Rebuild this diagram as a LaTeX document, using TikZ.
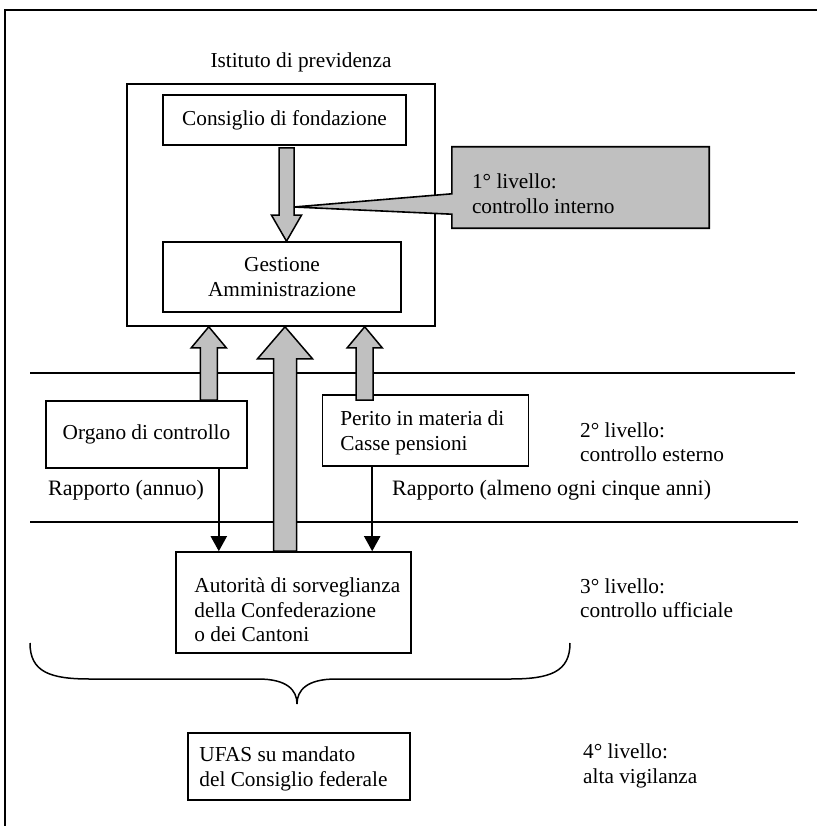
\documentclass[tikz,border=0pt]{standalone}
\usepackage{fontspec}
\setmainfont{Liberation Serif}
\usetikzlibrary{arrows.meta,calc}
\definecolor{panelgray}{RGB}{192,192,192}

% vertical block arrow: #1 base point, #2 point giving the tip height,
% #3 half shaft width, #4 half head width, #5 head length
\newcommand\fatarrow[5]{%
  \draw[blockarrow] let \p1=#1, \p2=#2, \n1={ifthenelse(\y2>\y1,1,-1)} in
    (\x1-#3,\y1) -- (\x1-#3,\y2-\n1*#5) -- (\x1-#4,\y2-\n1*#5) -- (\x1,\y2)
    -- (\x1+#4,\y2-\n1*#5) -- (\x1+#3,\y2-\n1*#5) -- (\x1+#3,\y1) -- cycle;}

\begin{document}
\begin{tikzpicture}[x=1pt,y=-1pt,
  every node/.style={font=\fontsize{21.3}{24.5}\selectfont, inner sep=0pt},
  box/.style={draw, line width=1.6pt, fill=white, align=center},
  txt/.style={align=left, anchor=west},
  reporttxt/.style={anchor=west, font=\fontsize{22}{25}\selectfont},
  frameline/.style={line width=1.5pt},
  sepline/.style={line width=2.6pt},
  blockarrow/.style={draw, fill=panelgray, line width=1.5pt, line join=miter},
  calloutshape/.style={draw, fill=panelgray, line width=1.6pt, line join=miter},
  report/.style={line width=2pt, -{Triangle[width=16pt,length=15pt]}},
  bracket/.style={line width=1.5pt}]

\useasboundingbox (0,0) rectangle (817,826);

% open frame (top and left edges)
\draw[frameline] (5,826) -- (5,10) -- (817,10);

% level separators
\draw[sepline] (30,373) -- (795,373);
\draw[sepline] (30,522) -- (798,522);

% pension institution
\node (title) at (301,62) {Istituto di previdenza};
\node[box, minimum width=308pt, minimum height=242pt] (inst) at (281,205) {};
\node[box, minimum width=243pt, minimum height=50pt] (cons) at (284.5,120) {Consiglio di fondazione};
\node[box, minimum width=238pt, minimum height=70pt] (gest) at (282,277) {Gestione\\Amministrazione};

% external control bodies
\node[box, minimum width=201pt, minimum height=67pt] (org) at (146.5,434.5) {Organo di controllo};
\node[box, minimum width=206pt, minimum height=71pt] (per) at (425.5,430.5) {};
\node[txt] (perT) at ($(per.west)+(18.5,2.5)$) {Perito in materia di\\Casse pensioni};

% supervisory authority
\node[box, minimum width=235pt, minimum height=101pt] (aut) at (293.5,602.5) {};
\node[txt] (autT) at ($(aut.west)+(19,7.5)$) {Autorità di sorveglianza\\della Confederazione\\o dei Cantoni};

% high supervision
\node[box, minimum width=222pt, minimum height=67pt] (ufas) at (299,766.5) {};
\node[txt] (ufasT) at ($(ufas.west)+(12,2.5)$) {UFAS su mandato\\del Consiglio federale};

% reports
\coordinate (oL) at ($(org.south east)+(-29,0)$);
\draw[report] (oL) -- (oL |- aut.north);
\coordinate (pL) at ($(per.south west)+(50.5,0)$);
\draw[report] (pL) -- (pL |- aut.north);
\node[reporttxt] (repA) at (48,490) {Rapporto (annuo)};
\node[reporttxt] (repB) at (392,490) {Rapporto (almeno ogni cinque anni)};

% block arrows
\fatarrow{($(cons.south)+(2,2)$)}{(gest.north)}{7.5pt}{15pt}{26pt}
\fatarrow{($(org.north east)+(-39,0)$)}{(inst.south)}{8.5pt}{17.5pt}{21pt}
\fatarrow{($(aut.north)+(-8.5,0)$)}{(inst.south)}{11.5pt}{27.5pt}{32pt}
\fatarrow{($(per.north west)+(43,6)$)}{(inst.south)}{8.5pt}{17.5pt}{21pt}

% callout for the first level
\node[minimum width=257pt, minimum height=81pt] (lvl1) at (580.5,187.5) {};
\coordinate (ptr) at (294,207);
\draw[calloutshape] (lvl1.north west) -- (lvl1.north east) -- (lvl1.south east)
  -- (lvl1.south west) -- ($(lvl1.south west)+(0,-14)$) -- (ptr)
  -- ($(lvl1.north west)+(0,47)$) -- cycle;
\node[txt] (lvl1T) at ($(lvl1.west)+(20,6)$) {1° livello:\\controllo interno};

% level labels
\node[txt] (lvl2) at (580,442) {2° livello:\\controllo esterno};
\node[txt] (lvl3) at (580,598) {3° livello:\\controllo ufficiale};
\node[txt] (lvl4) at (583,766) {4° livello:\\alta vigilanza};

% brace gathering the lower levels
\draw[bracket] (30,643) .. controls (30,672) and (50,679) .. (90,679)
  -- (258,679) .. controls (287,679) and (297,690) .. (297,704)
  .. controls (297,690) and (307,679) .. (336,679)
  -- (510,679) .. controls (550,679) and (570,672) .. (570,643);
\end{tikzpicture}
\end{document}
